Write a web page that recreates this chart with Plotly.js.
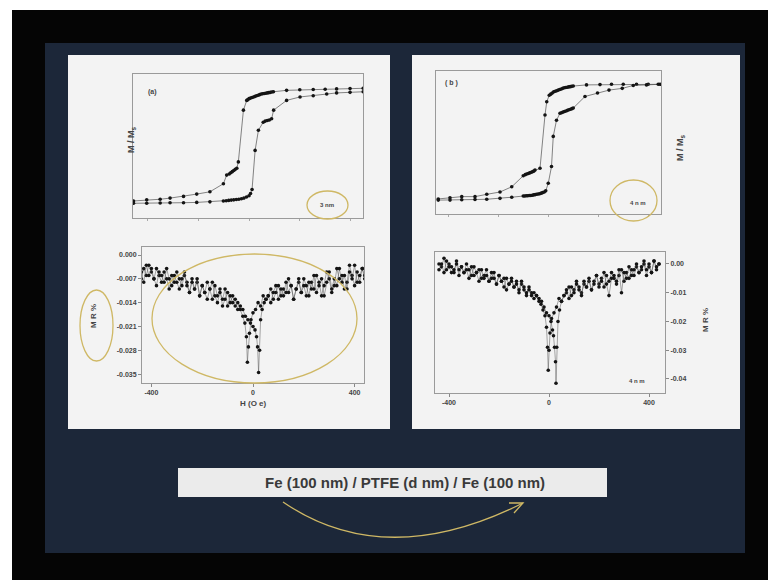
<!DOCTYPE html>
<html>
<head>
<meta charset="utf-8">
<script src="https://cdn.plot.ly/plotly-3.0.1.min.js"></script>
<style>html,body{margin:0;padding:0;background:#000;}#chart{width:768px;height:580px;}</style>
</head>
<body>
<div id="chart"></div>
<script>
// ---- Hysteresis loop (a), 3 nm ----
const hA_down = [450,398,345,300,253,200,148,96,90,84,78,72,66,60,54,48,42,36,30,24,18,12,6,0,-5,-9,-22,-42,-48,-54,-60,-66,-72,-78,-88,-101,-154,-206,-258,-311,-350,-403,-455];
const mA_down = [1.00,0.995,0.99,0.985,0.98,0.975,0.965,0.94,0.935,0.93,0.925,0.92,0.915,0.91,0.905,0.90,0.89,0.88,0.87,0.86,0.85,0.84,0.83,0.82,0.80,0.79,0.62,-0.28,-0.39,-0.41,-0.43,-0.45,-0.47,-0.49,-0.51,-0.66,-0.80,-0.84,-0.88,-0.91,-0.93,-0.94,-0.96];
const hA_up = [-455,-403,-350,-311,-258,-206,-154,-101,-90,-80,-70,-60,-50,-40,-30,-20,-10,0,6,12,24,37,56,64,72,80,89,97,148,201,253,306,345,398,450];
const mA_up = [-1.00,-1.00,-0.995,-0.99,-0.99,-0.985,-0.975,-0.96,-0.955,-0.95,-0.945,-0.94,-0.935,-0.93,-0.92,-0.91,-0.89,-0.87,-0.83,-0.76,-0.08,0.27,0.41,0.43,0.44,0.45,0.47,0.62,0.79,0.85,0.87,0.90,0.92,0.93,0.94];

// ---- Hysteresis loop (b), 4 nm ----
const hB_down = [447,400,353,300,253,207,153,100,94,88,82,76,70,64,58,52,46,40,34,28,22,16,10,4,-6,-13,-33,-53,-58,-63,-68,-74,-80,-86,-92,-100,-146,-193,-246,-293,-346,-393,-440];
const mB_down = [1.00,1.00,1.00,1.00,1.00,0.995,0.99,0.97,0.965,0.96,0.955,0.95,0.945,0.94,0.93,0.92,0.91,0.90,0.89,0.88,0.87,0.85,0.83,0.81,0.70,0.47,-0.45,-0.48,-0.50,-0.51,-0.52,-0.53,-0.54,-0.55,-0.56,-0.58,-0.77,-0.86,-0.90,-0.94,-0.94,-0.96,-0.98];
const hB_up = [-440,-393,-346,-293,-246,-193,-146,-100,-94,-88,-82,-76,-70,-64,-58,-52,-46,-40,-34,-28,-22,-16,-10,0,13,20,33,47,53,59,65,71,77,83,89,95,100,147,197,243,296,340,393,440];
const mB_up = [-1.00,-1.00,-0.995,-0.99,-0.985,-0.97,-0.95,-0.93,-0.93,-0.925,-0.925,-0.92,-0.92,-0.915,-0.91,-0.905,-0.90,-0.895,-0.89,-0.88,-0.87,-0.86,-0.84,-0.71,-0.42,0.10,0.38,0.50,0.51,0.52,0.53,0.54,0.55,0.56,0.57,0.58,0.59,0.79,0.85,0.90,0.93,0.98,0.99,1.00];

// ---- MR (a), 3 nm ----
const hMRa_down = [440,430,420,410,400,390,380,370,360,350,340,330,320,310,300,290,280,270,260,250,240,230,220,210,200,190,180,170,160,150,140,130,120,110,100,90,80,70,60,
  50,40,30,20,10,0,-8,-14,-18,-22,-26,-32,-40,-50,
  -60,-70,-80,-90,-100,-110,-120,-130,-140,-150,-160,-170,-180,-190,-200,-210,-220,-230,-240,-250,-260,-270,-280,-290,-300,-310,-320,-330,-340,-350,-360,-370,-380,-390,-400,-410,-420,-430,-440];
const mrA_down = [-0.006,-0.004,-0.008,-0.005,-0.009,-0.006,-0.003,-0.008,-0.010,-0.006,-0.007,-0.004,-0.009,-0.011,-0.007,-0.005,-0.009,-0.012,-0.008,-0.006,-0.010,-0.008,-0.012,-0.009,-0.007,-0.011,-0.008,-0.010,-0.013,-0.009,-0.007,-0.011,-0.010,-0.012,-0.009,-0.011,-0.013,-0.010,-0.012,
  -0.013,-0.012,-0.015,-0.014,-0.016,-0.017,-0.019,-0.023,-0.027,-0.0315,-0.024,-0.020,-0.018,-0.016,
  -0.014,-0.015,-0.012,-0.014,-0.011,-0.013,-0.015,-0.010,-0.012,-0.009,-0.013,-0.010,-0.008,-0.011,-0.009,-0.012,-0.008,-0.010,-0.007,-0.011,-0.008,-0.006,-0.009,-0.007,-0.005,-0.008,-0.006,-0.010,-0.007,-0.005,-0.008,-0.006,-0.004,-0.007,-0.005,-0.003,-0.006,-0.004,-0.007];
const hMRa_up = [-440,-430,-420,-410,-400,-390,-380,-370,-360,-350,-340,-330,-320,-310,-300,-290,-280,-270,-260,-250,-240,-230,-220,-210,-200,-190,-180,-170,-160,-150,-140,-130,-120,-110,-100,-90,-80,-70,-60,
  -50,-40,-30,-20,-10,0,8,14,18,22,26,30,36,44,52,
  60,70,80,90,100,110,120,130,140,150,160,170,180,190,200,210,220,230,240,250,260,270,280,290,300,310,320,330,340,350,360,370,380,390,400,410,420,430,440];
const mrA_up = [-0.005,-0.008,-0.003,-0.006,-0.004,-0.007,-0.009,-0.005,-0.006,-0.008,-0.004,-0.007,-0.009,-0.006,-0.008,-0.010,-0.007,-0.005,-0.009,-0.011,-0.008,-0.010,-0.007,-0.012,-0.009,-0.011,-0.013,-0.010,-0.008,-0.012,-0.014,-0.011,-0.013,-0.010,-0.015,-0.012,-0.014,-0.013,-0.016,
  -0.015,-0.016,-0.018,-0.019,-0.020,-0.021,-0.022,-0.024,-0.027,-0.0345,-0.028,-0.019,-0.016,-0.014,-0.013,
  -0.012,-0.014,-0.011,-0.009,-0.013,-0.010,-0.012,-0.008,-0.011,-0.009,-0.013,-0.010,-0.007,-0.011,-0.009,-0.012,-0.008,-0.010,-0.006,-0.011,-0.009,-0.007,-0.012,-0.008,-0.005,-0.010,-0.007,-0.009,-0.004,-0.008,-0.006,-0.010,-0.005,-0.007,-0.003,-0.008,-0.006,-0.004,-0.007];

// ---- MR (b), 4 nm ----
const hMRb_down = [440,430,420,410,400,390,380,370,360,350,340,330,320,310,300,290,280,270,260,250,240,230,220,210,200,190,180,170,160,150,140,130,120,110,100,90,80,70,60,
  50,40,30,20,10,4,0,-3,-6,-10,-16,-24,-32,-40,-50,
  -60,-70,-80,-90,-100,-110,-120,-130,-140,-150,-160,-170,-180,-190,-200,-210,-220,-230,-240,-250,-260,-270,-280,-290,-300,-310,-320,-330,-340,-350,-360,-370,-380,-390,-400,-410,-420,-430,-440];
const mrB_down = [0.000,-0.002,0.001,-0.003,-0.001,-0.004,0.000,-0.002,-0.003,-0.001,-0.004,-0.002,-0.005,-0.003,-0.006,-0.002,-0.004,-0.007,-0.005,-0.003,-0.006,-0.004,-0.008,-0.005,-0.007,-0.004,-0.006,-0.009,-0.006,-0.008,-0.007,-0.010,-0.008,-0.006,-0.009,-0.011,-0.008,-0.010,-0.011,
  -0.013,-0.012,-0.015,-0.017,-0.019,-0.024,-0.030,-0.037,-0.029,-0.022,-0.018,-0.016,-0.014,-0.013,-0.011,
  -0.012,-0.010,-0.008,-0.011,-0.009,-0.007,-0.010,-0.006,-0.008,-0.005,-0.007,-0.009,-0.005,-0.006,-0.004,-0.007,-0.003,-0.005,-0.006,-0.002,-0.004,-0.005,-0.002,-0.003,-0.001,-0.004,-0.002,0.000,-0.003,-0.001,-0.002,0.001,-0.003,-0.001,0.000,-0.002,0.002,-0.001,0.000];
const hMRb_up = [-440,-430,-420,-410,-400,-390,-380,-370,-360,-350,-340,-330,-320,-310,-300,-290,-280,-270,-260,-250,-240,-230,-220,-210,-200,-190,-180,-170,-160,-150,-140,-130,-120,-110,-100,-90,-80,-70,-60,
  -50,-40,-30,-20,-10,0,8,14,18,22,26,28,31,36,42,50,
  60,70,80,90,100,110,120,130,140,150,160,170,180,190,200,210,220,230,240,250,260,270,280,290,300,310,320,330,340,350,360,370,380,390,400,410,420,430,440];
const mrB_up = [-0.002,0.000,-0.003,0.001,-0.001,-0.003,-0.002,0.000,-0.004,-0.001,-0.003,-0.002,-0.005,-0.001,-0.004,-0.003,-0.006,-0.002,-0.005,-0.004,-0.006,-0.003,-0.005,-0.007,-0.004,-0.006,-0.008,-0.005,-0.007,-0.006,-0.008,-0.007,-0.009,-0.006,-0.008,-0.010,-0.009,-0.011,-0.010,
  -0.011,-0.012,-0.013,-0.015,-0.017,-0.018,-0.020,-0.023,-0.025,-0.029,-0.034,-0.0415,-0.029,-0.020,-0.016,-0.013,
  -0.011,-0.009,-0.012,-0.008,-0.010,-0.007,-0.009,-0.011,-0.006,-0.008,-0.005,-0.009,-0.007,-0.004,-0.008,-0.006,-0.003,-0.007,-0.011,-0.005,-0.004,-0.006,-0.002,-0.010,-0.003,-0.005,-0.001,-0.004,-0.002,0.000,-0.003,-0.001,0.001,-0.002,0.000,-0.003,0.001,-0.001,0.000];

// tick labels
const topTicks = [-400,-200,0,200,400];
const mrXTicks = [-400,0,400];
const mrXText = ['-400','0','400'];
const mrATicks = [0,-0.007,-0.014,-0.021,-0.028,-0.035];
const mrAText = ['0.000','-0.007','-0.014','-0.021','-0.028','-0.035'];
const mrBTicks = [0,-0.01,-0.02,-0.03,-0.04];
const mrBText = ['0.00','-0.01','-0.02','-0.03','-0.04'];

const caption = 'Fe (100 nm) / PTFE (d nm) / Fe (100 nm)';

// ---- helpers (pixel -> paper) ----
const W = 768, Hh = 580;
const fx = x => x / W;
const fy = y => 1 - y / Hh;

function tr(x, y, xa, ya, ms, lw) {
  return {x: x, y: y, xaxis: xa, yaxis: ya, type: 'scatter', mode: 'lines+markers',
    line: {color: '#505050', width: lw}, marker: {color: '#141414', size: ms},
    hoverinfo: 'skip', showlegend: false};
}

const data = [
  tr(hA_down, mA_down, 'x', 'y', 3.6, 0.7),
  tr(hA_up, mA_up, 'x', 'y', 3.6, 0.7),
  tr(hB_down, mB_down, 'x2', 'y2', 3.6, 0.7),
  tr(hB_up, mB_up, 'x2', 'y2', 3.6, 0.7),
  tr(hMRa_down, mrA_down, 'x3', 'y3', 3.6, 0.5),
  tr(hMRa_up, mrA_up, 'x3', 'y3', 3.6, 0.5),
  tr(hMRb_down, mrB_down, 'x4', 'y4', 3.6, 0.5),
  tr(hMRb_up, mrB_up, 'x4', 'y4', 3.6, 0.5)
];

const frame = {showline: true, mirror: true, linecolor: '#9a9a9a', linewidth: 1,
  showgrid: false, zeroline: false, fixedrange: true};
const tickFont = {family: 'Liberation Sans, Arial, sans-serif', size: 7, color: '#444', weight: 'bold'};

const layout = {
  width: W, height: Hh,
  margin: {l: 0, r: 0, t: 0, b: 0},
  paper_bgcolor: '#050505',
  plot_bgcolor: 'rgba(0,0,0,0)',
  showlegend: false,
  xaxis: Object.assign({}, frame, {domain: [fx(133), fx(363)], range: [-457, 449], anchor: 'y',
    ticks: 'outside', ticklen: 2, tickcolor: '#aaa', tickvals: topTicks, showticklabels: false}),
  yaxis: Object.assign({}, frame, {domain: [fy(218), fy(74)], range: [-1.256, 1.249], anchor: 'x',
    showticklabels: false, ticks: ''}),
  xaxis2: Object.assign({}, frame, {domain: [fx(436), fx(661)], range: [-449, 451], anchor: 'y2',
    ticks: 'outside', ticklen: 2, tickcolor: '#aaa', tickvals: topTicks, showticklabels: false}),
  yaxis2: Object.assign({}, frame, {domain: [fy(214), fy(71)], range: [-1.24, 1.23], anchor: 'x2',
    showticklabels: false, ticks: ''}),
  xaxis3: Object.assign({}, frame, {domain: [fx(142), fx(364)], range: [-437, 437], anchor: 'y3',
    ticks: 'outside', ticklen: 3, tickcolor: '#888', tickmode: 'array', tickvals: mrXTicks, ticktext: mrXText,
    tickfont: tickFont}),
  yaxis3: Object.assign({}, frame, {domain: [fy(383), fy(247)], range: [-0.0376, 0.00235], anchor: 'x3',
    ticks: 'outside', ticklen: 3, tickcolor: '#888', tickmode: 'array', tickvals: mrATicks, ticktext: mrAText,
    tickfont: tickFont}),
  xaxis4: Object.assign({}, frame, {domain: [fx(435), fx(665)], range: [-456, 464], anchor: 'y4',
    ticks: 'outside', ticklen: 3, tickcolor: '#888', tickmode: 'array', tickvals: mrXTicks, ticktext: mrXText,
    tickfont: tickFont}),
  yaxis4: Object.assign({}, frame, {domain: [fy(393), fy(252)], range: [-0.0449, 0.00417], anchor: 'x4',
    side: 'right', ticks: 'outside', ticklen: 3, tickcolor: '#888', tickmode: 'array', tickvals: mrBTicks, ticktext: mrBText,
    tickfont: tickFont}),
  shapes: [],
  annotations: []
};

function rect(x0, y0, x1, y1, fill, layer) {
  return {type: 'rect', xref: 'paper', yref: 'paper', x0: fx(x0), x1: fx(x1), y0: fy(y1), y1: fy(y0),
    fillcolor: fill, line: {width: 0}, layer: layer || 'below'};
}
function ell(x0, y0, x1, y1) {
  return {type: 'circle', xref: 'paper', yref: 'paper', x0: fx(x0), x1: fx(x1), y0: fy(y1), y1: fy(y0),
    line: {color: '#cfb865', width: 1.3}, fillcolor: 'rgba(0,0,0,0)', layer: 'above'};
}
function pth(d) {
  return {type: 'path', xref: 'paper', yref: 'paper', path: d,
    line: {color: '#cfb865', width: 1.3}, layer: 'above'};
}

layout.shapes.push(
  rect(0, 0, 768, 10, '#ffffff'),
  rect(0, 0, 12, 580, '#ffffff'),
  rect(45, 43, 745, 553, '#1c2739'),
  rect(68, 55, 390, 429, '#f3f3f3'),
  rect(412, 55, 740, 429, '#f3f3f3'),
  rect(178, 468, 607, 497, '#ebebeb'),
  ell(307, 191, 348, 219),
  ell(610, 180, 657, 221),
  ell(152, 254, 357, 383),
  ell(80, 290, 113, 361),
  pth('M ' + fx(283) + ',' + fy(502) + ' Q ' + fx(385) + ',' + fy(572) + ' ' + fx(523) + ',' + fy(503)),
  pth('M ' + fx(509) + ',' + fy(503) + ' L ' + fx(523) + ',' + fy(503) + ' L ' + fx(514) + ',' + fy(513))
);

function ann(text, x, y, size, opts) {
  return Object.assign({text: text, xref: 'paper', yref: 'paper', x: fx(x), y: fy(y),
    xanchor: 'center', yanchor: 'middle', showarrow: false,
    font: {family: 'Liberation Sans, Arial, sans-serif', size: size, color: '#454545', weight: 'bold'}}, opts || {});
}

layout.annotations.push(
  ann('(a)', 152, 92, 7),
  ann('M / M<sub>s</sub>', 131, 140, 9, {textangle: -90}),
  ann('3 nm', 327, 205, 6),
  ann('( b )', 451, 83, 7),
  ann('M / M<sub>s</sub>', 680, 148, 9, {textangle: -90}),
  ann('4 n m', 638, 203, 6),
  ann('M R %', 93, 316, 8, {textangle: -90}),
  ann('H (O e)', 253, 404, 8),
  ann('M R %', 705, 320, 8, {textangle: -90}),
  ann('4 n m', 637, 381, 6),
  ann(caption, 405, 482, 15, {font: {family: 'Liberation Sans, Arial, sans-serif', size: 15, color: '#3a3a3a', weight: 'bold'}})
);

Plotly.newPlot('chart', data, layout, {staticPlot: true, displayModeBar: false});
</script>
</body>
</html>
